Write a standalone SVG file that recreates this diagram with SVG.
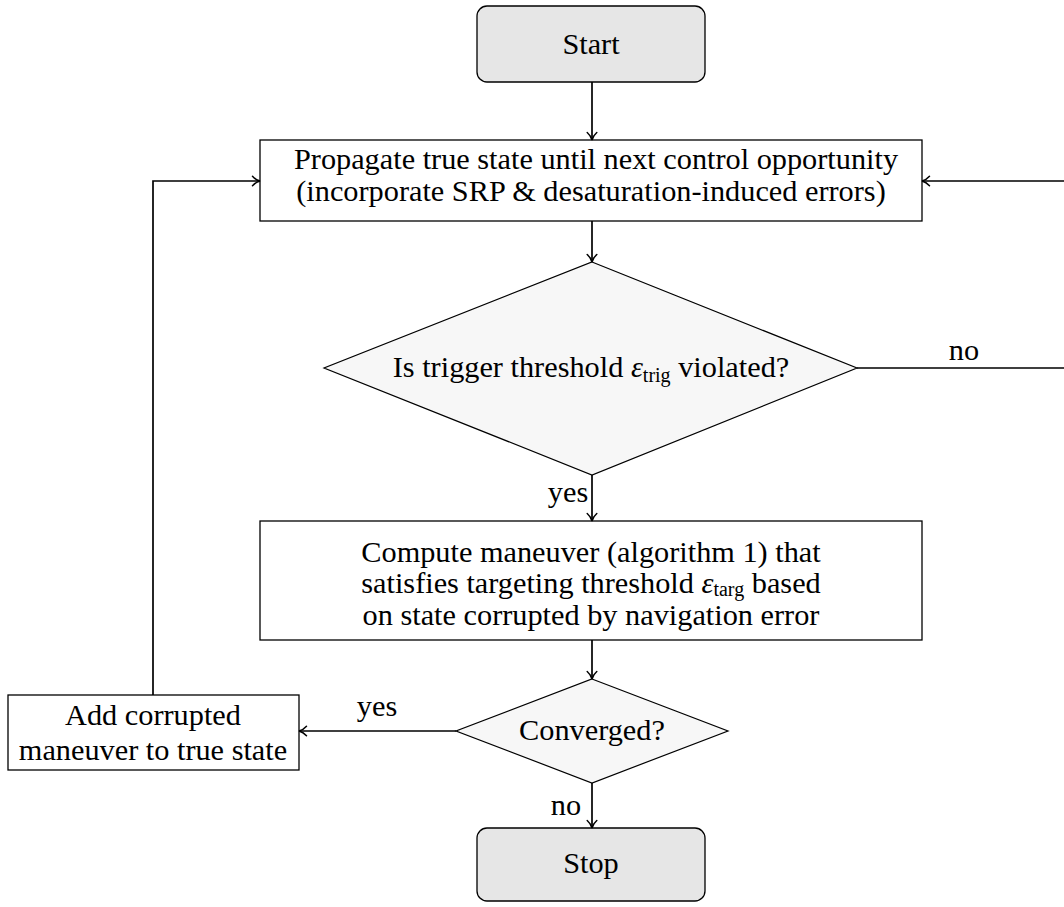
<svg xmlns="http://www.w3.org/2000/svg" width="1064" height="907" viewBox="0 0 1064 907">
<defs>
<marker id="arr" markerUnits="userSpaceOnUse" markerWidth="14" markerHeight="14" viewBox="-10 -7 12 14" refX="0" refY="0" orient="auto">
<path d="M-7.5,-4.8 C-5,-2 -2,-0.5 0,0 C-2,0.5 -5,2 -7.5,4.8" fill="none" stroke="#000" stroke-width="1.5" stroke-linecap="round"/>
</marker>
<style>
text{font-family:'Liberation Serif','Times New Roman','DejaVu Serif',serif;font-size:30.3px;fill:#000;text-anchor:middle}
.term{fill:#e6e6e6;stroke:#000;stroke-width:1.3}
.box{fill:#fff;stroke:#000;stroke-width:1.3}
.dec{fill:#f7f7f7;stroke:#000;stroke-width:1.2}
.ca{fill:none;stroke:#000;stroke-width:1.7;marker-end:url(#arr)}
.sub{font-size:20px}
.eps{font-style:italic}
</style>
</defs>
<rect width="1064" height="907" fill="#fff"/>
<g font-family="Liberation Serif, Times New Roman, serif">
<g id="start">
<rect class="term" x="477" y="6" width="228" height="76" rx="10"/>
<text x="591" y="54">Start</text>
</g>
<g id="propagate">
<rect class="box" x="260" y="140" width="662" height="81"/>
<text x="596" y="169">Propagate true state until next control opportunity</text>
<text x="591" y="201">(incorporate SRP &amp; desaturation-induced errors)</text>
</g>
<g id="trigger">
<polygon class="dec" points="592,262 857,368 592,475 324,368"/>
<text x="591" y="377">Is trigger threshold <tspan class="eps">ε</tspan><tspan class="sub" dy="5">trig</tspan><tspan dy="-5"> violated?</tspan></text>
</g>
<g id="compute">
<rect class="box" x="260" y="521" width="662" height="119"/>
<text x="591" y="562">Compute maneuver (algorithm 1) that</text>
<text x="591" y="593">satisfies targeting threshold <tspan class="eps">ε</tspan><tspan class="sub" dy="3">targ</tspan><tspan dy="-3"> based</tspan></text>
<text x="591" y="625">on state corrupted by navigation error</text>
</g>
<g id="converged">
<polygon class="dec" points="592,679 728,731 592,783 456,731"/>
<text x="592" y="740">Converged?</text>
</g>
<g id="add">
<rect class="box" x="8" y="695" width="291" height="75"/>
<text x="153" y="725">Add corrupted</text>
<text x="153" y="760">maneuver to true state</text>
</g>
<g id="stop">
<rect class="term" x="477" y="828" width="228" height="73" rx="10"/>
<text x="591" y="873">Stop</text>
</g>
<g id="connectors">
<path class="ca" d="M592,82 V140"/>
<path class="ca" d="M592,221 V262"/>
<path class="ca" d="M592,475 V521"/>
<path class="ca" d="M592,640 V679"/>
<path class="ca" d="M592,783 V828"/>
<path class="ca" d="M456,731 H299"/>
<path class="ca" d="M153,695 V181 H260"/>
<path class="ca" d="M857,368 H1072 V181 H922"/>
<text x="964" y="360">no</text>
<text x="568" y="502">yes</text>
<text x="377" y="716">yes</text>
<text x="566" y="815">no</text>
</g>
</g>
</svg>
